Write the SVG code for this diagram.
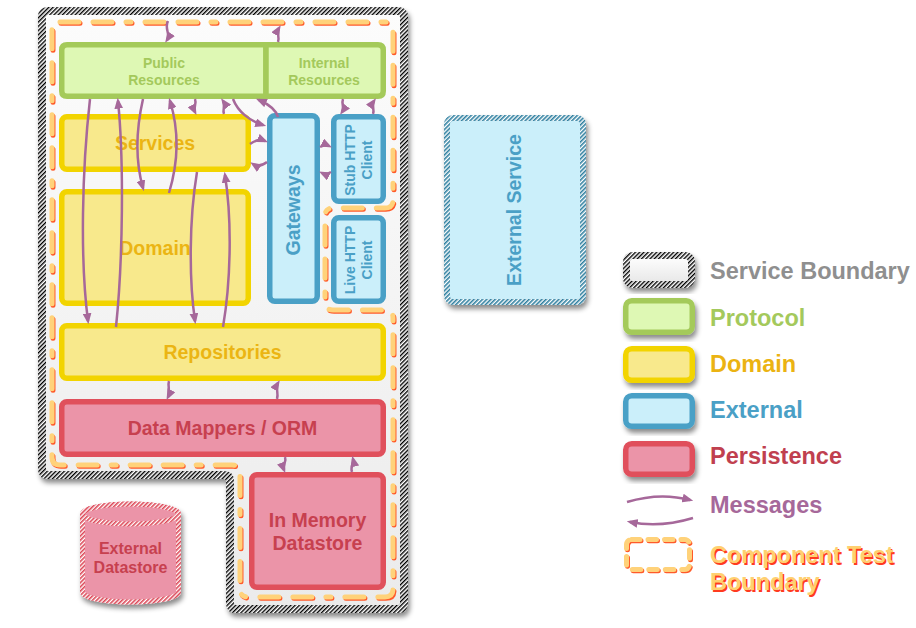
<svg xmlns="http://www.w3.org/2000/svg" width="916" height="628" viewBox="0 0 916 628">
<defs>
<style>
text{font-family:"Liberation Sans",Arial,Helvetica,sans-serif;font-weight:bold}
.c{text-anchor:middle}
.prot{fill:#def8b4;stroke:#a4ca5a;stroke-width:5.5}
.dom{fill:#f8e98c;stroke:#f2d400;stroke-width:5.5}
.ext{fill:#cbeffa;stroke:#4aa0c6;stroke-width:5.5}
.per{fill:#eb94a8;stroke:#e0505c;stroke-width:5.5}
.tprot{fill:#a4c95c;font-size:14px}
.tdom{fill:#ebb514;font-size:19.5px}
.text{fill:#4aa0c6}
.tper{fill:#c7404f}
.msg{fill:none;stroke:#a6689a;stroke-width:2.5;marker-end:url(#ah)}
.ctb{fill:none;stroke-width:5;stroke-linecap:round;stroke-linejoin:round}
.leg{font-size:23.5px}
</style>
<marker id="ah" viewBox="0 0 10 8" refX="7" refY="4" markerWidth="11" markerHeight="9" markerUnits="userSpaceOnUse" orient="auto"><path d="M0,0 L10,4 L0,8 z" fill="#a6689a"/></marker>
<pattern id="hk" width="3" height="3" patternUnits="userSpaceOnUse" patternTransform="rotate(45)"><rect width="3" height="3" fill="#fff"/><rect width="1.4" height="3" fill="#000"/></pattern>
<pattern id="hb" width="3" height="3" patternUnits="userSpaceOnUse" patternTransform="rotate(45)"><rect width="3" height="3" fill="#fff"/><rect width="1.6" height="3" fill="#2f7fa0"/></pattern>
<pattern id="hr" width="3" height="3" patternUnits="userSpaceOnUse" patternTransform="rotate(45)"><rect width="3" height="3" fill="#fff"/><rect width="1.6" height="3" fill="#dc4656"/></pattern>
<linearGradient id="bg" x1="0" y1="0" x2="0" y2="1"><stop offset="0" stop-color="#fcfcfc"/><stop offset="1" stop-color="#ebebeb"/></linearGradient>
<linearGradient id="bg2" x1="0" y1="0" x2="0" y2="1"><stop offset="0" stop-color="#ffffff"/><stop offset="1" stop-color="#e6e6e6"/></linearGradient>
<filter id="sh" x="-20%" y="-20%" width="140%" height="150%"><feDropShadow dx="2" dy="4" stdDeviation="2.5" flood-color="#000" flood-opacity="0.45"/></filter>
</defs>

<g id="service-boundary">
<path d="M48,11 H398 Q404,11 404,17 V603 Q404,609 398,609 H236 Q230,609 230,603 V481 Q230,475 224,475 H48 Q42,475 42,469 V17 Q42,11 48,11 Z" fill="url(#bg)" stroke="url(#hk)" stroke-width="8" filter="url(#sh)"/>
</g>

<g id="component-test-boundary">
<path class="ctb" transform="translate(1,1.3)" stroke="#ff5a2a" stroke-dasharray="19 14 19 14 5 14" d="M60,22 H385 Q393,22 393,30 V200 Q393,208 385,208 H333 Q325,208 325,216 V302 Q325,310 333,310 H385 Q393,310 393,318 V589 Q393,597 385,597 H248 Q240,597 240,589 V473 Q240,465 232,465 H60 Q52,465 52,457 V30 Q52,22 60,22 Z"/>
<path class="ctb" stroke="#ffd27a" stroke-dasharray="19 14 19 14 5 14" d="M60,22 H385 Q393,22 393,30 V200 Q393,208 385,208 H333 Q325,208 325,216 V302 Q325,310 333,310 H385 Q393,310 393,318 V589 Q393,597 385,597 H248 Q240,597 240,589 V473 Q240,465 232,465 H60 Q52,465 52,457 V30 Q52,22 60,22 Z"/>
</g>

<g id="public-resources">
<path class="prot" d="M266,44.75 H67 Q61.75,44.75 61.75,50 V91 Q61.75,96.25 67,96.25 H266 Z"/>
<text class="c tprot" x="164" y="68">Public</text>
<text class="c tprot" x="164" y="85">Resources</text>
</g>
<g id="internal-resources">
<path class="prot" d="M266,44.75 H378 Q383.25,44.75 383.25,50 V91 Q383.25,96.25 378,96.25 H266 Z"/>
<text class="c tprot" x="324" y="68">Internal</text>
<text class="c tprot" x="324" y="85">Resources</text>
</g>

<g id="services">
<rect class="dom" x="61.75" y="116.75" width="186.5" height="52.5" rx="5"/>
<text class="c tdom" x="155" y="150">Services</text>
</g>
<g id="domain">
<rect class="dom" x="61.75" y="191.75" width="186.5" height="111.5" rx="5"/>
<text class="c tdom" x="155" y="255">Domain</text>
</g>
<g id="gateways">
<rect class="ext" x="269.75" y="115.75" width="47.5" height="185.5" rx="5"/>
<text class="c text" font-size="19.5" transform="translate(300,210) rotate(-90)">Gateways</text>
</g>
<g id="stub-http-client">
<rect class="ext" x="333.75" y="116.75" width="49.5" height="84.5" rx="5"/>
<text class="c text" font-size="14" transform="translate(355,160) rotate(-90)">Stub HTTP<tspan x="0" dy="17">Client</tspan></text>
</g>
<g id="live-http-client">
<rect class="ext" x="333.75" y="217.75" width="49.5" height="83.5" rx="5"/>
<text class="c text" font-size="14" transform="translate(355,260) rotate(-90)">Live HTTP<tspan x="0" dy="17">Client</tspan></text>
</g>
<g id="repositories">
<rect class="dom" x="61.75" y="325.75" width="321.5" height="52.5" rx="5"/>
<text class="c tdom" x="222.5" y="359">Repositories</text>
</g>
<g id="data-mappers-orm">
<rect class="per" x="61.75" y="401.75" width="321.5" height="52.5" rx="5"/>
<text class="c tper" font-size="19.5" x="222.5" y="435">Data Mappers / ORM</text>
</g>
<g id="in-memory-datastore">
<rect class="per" x="251.75" y="474.75" width="131.5" height="112.5" rx="5"/>
<text class="c tper" font-size="19.5" x="317.5" y="527">In Memory</text>
<text class="c tper" font-size="19.5" x="317.5" y="550">Datastore</text>
</g>
<g id="external-service">
<rect x="447" y="118" width="136" height="184" rx="6" fill="#cbeffa" stroke="url(#hb)" stroke-width="6" filter="url(#sh)"/>
<text class="c text" font-size="19.5" transform="translate(521,210) rotate(-90)">External Service</text>
</g>
<g id="external-datastore">
<g filter="url(#sh)">
<path d="M82.5,514 V592 A48,10 0 0 0 178.5,592 V514 A48,10 0 0 0 82.5,514 Z" fill="#eb94a8" stroke="url(#hr)" stroke-width="5"/>
<ellipse cx="130.5" cy="514" rx="48" ry="10" fill="#eb94a8" stroke="url(#hr)" stroke-width="5"/>
</g>
<text class="c tper" font-size="16" x="130.5" y="554">External</text>
<text class="c tper" font-size="16" x="130.5" y="573">Datastore</text>
</g>

<g id="connectors">
<path class="msg" d="M168,21 C164,29 171,34 167,40"/>
<path class="msg" d="M278,42 C280,36 276,33 279,28"/>
<path class="msg" d="M90,99 C82,170 80,260 88,321"/>
<path class="msg" d="M116,327 C123,260 124,160 118,101"/>
<path class="msg" d="M143,99 C136,130 135,160 143,188"/>
<path class="msg" d="M169,193 C179,160 179,130 170,101"/>
<path class="msg" d="M195,99 C197,104 193,108 195,112"/>
<path class="msg" d="M224,114 C222,110 226,105 223,101"/>
<path class="msg" d="M233,99 C238,112 250,121 263,125"/>
<path class="msg" d="M278,117 C276,110 268,104 259,100"/>
<path class="msg" d="M343,99 C341,104 345,108 342,112"/>
<path class="msg" d="M373,114 C375,110 371,105 374,101"/>
<path class="msg" d="M250,144 Q258,138 265,141"/>
<path class="msg" d="M267,162 Q259,168 253,164"/>
<path class="msg" d="M320,147 Q325,144 329,146"/>
<path class="msg" d="M331,172 Q326,175 322,173"/>
<path class="msg" d="M197,172 C189,220 189,280 195,321"/>
<path class="msg" d="M223,327 C231,280 232,220 225,175"/>
<path class="msg" d="M169,381 C167,387 171,391 168,397"/>
<path class="msg" d="M277,399 C279,393 275,388 278,383"/>
<path class="msg" d="M285,457 C287,462 282,465 284,470"/>
<path class="msg" d="M352,472 C350,467 354,463 353,459"/>
</g>

<g id="legend">
<g id="legend-service-boundary">
<rect x="626.5" y="255.5" width="65" height="29" rx="6" fill="url(#bg2)" stroke="url(#hk)" stroke-width="7" filter="url(#sh)"/>
<text class="leg" x="710" y="279" fill="#8f8f8f">Service Boundary</text>
</g>
<g id="legend-protocol">
<rect class="prot" x="625.75" y="300.75" width="66.5" height="31.5" rx="6" filter="url(#sh)"/>
<text class="leg" x="710" y="326" fill="#a4c95c">Protocol</text>
</g>
<g id="legend-domain">
<rect class="dom" x="625.75" y="348.75" width="66.5" height="31.5" rx="6" filter="url(#sh)"/>
<text class="leg" x="710" y="372" fill="#ebb312">Domain</text>
</g>
<g id="legend-external">
<rect class="ext" x="625.75" y="395.75" width="66.5" height="30.5" rx="6" filter="url(#sh)"/>
<text class="leg" x="710" y="418" fill="#4aa0c6">External</text>
</g>
<g id="legend-persistence">
<rect class="per" x="625.75" y="443.75" width="66.5" height="30.5" rx="6" filter="url(#sh)"/>
<text class="leg" x="710" y="464" fill="#c0404f">Persistence</text>
</g>
<g id="legend-messages">
<path class="msg" d="M627,502 Q660,492 690,500"/>
<path class="msg" d="M693,518 Q660,528 630,522"/>
<text class="leg" x="710" y="513" fill="#a6689a">Messages</text>
</g>
<g id="legend-component-test-boundary">
<rect class="ctb" transform="translate(1,1.3)" x="626.5" y="539.5" width="63" height="30" rx="5" stroke="#ff5a2a" stroke-dasharray="8.5 8"/>
<rect class="ctb" x="626.5" y="539.5" width="63" height="30" rx="5" stroke="#ffd27a" stroke-dasharray="8.5 8"/>
<text class="leg" x="711.5" y="564.5" fill="#ff3b1f">Component Test</text>
<text class="leg" x="711.5" y="591.5" fill="#ff3b1f">Boundary</text>
<text class="leg" x="710" y="563" fill="#ffd070">Component Test</text>
<text class="leg" x="710" y="590" fill="#ffd070">Boundary</text>
</g>
</g>
</svg>
